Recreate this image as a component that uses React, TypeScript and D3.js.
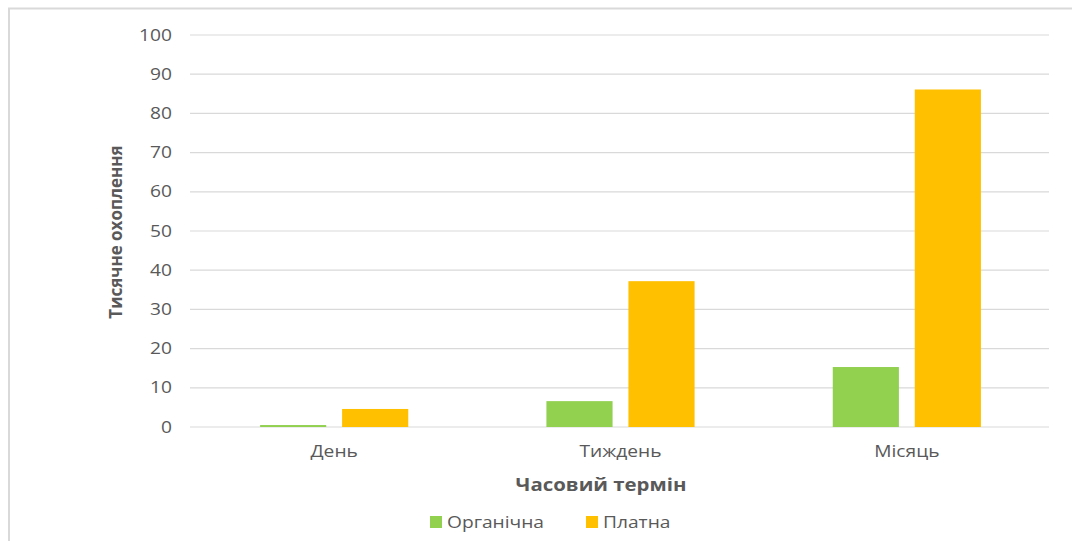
import React from "react";
import * as d3 from "d3";

const categories = ["День", "Тиждень", "Місяць"];
const seriesNames = ["Органічна", "Платна"];
const organic = [0.5, 6.6, 15.3];
const paid = [4.6, 37.2, 86.1];
const yTicks = [0, 10, 20, 30, 40, 50, 60, 70, 80, 90, 100];
const colors = ["#92d050", "#ffc000"];

const W = 1072;
const H = 541;
const plot = { left: 190, right: 1049, top: 35, bottom: 427 };
const font = "'Open Sans', 'Liberation Sans', sans-serif";
const textColor = "#595959";
const stretch = 1.2;

type LabelProps = {
  x: number;
  y: number;
  anchor?: "start" | "middle" | "end";
  size?: number;
  weight?: string;
  children: React.ReactNode;
};

// horizontally widened label, anchored at (x, y) on its vertical middle
function Label({ x, y, anchor = "start", size = 16, weight = "normal", children }: LabelProps) {
  return (
    <g transform={`translate(${x},${y}) scale(${stretch},1)`}>
      <text dy="0.35em" textAnchor={anchor} fontSize={size} fontWeight={weight} fill={textColor}>
        {children}
      </text>
    </g>
  );
}

export default function App() {
  const y = d3.scaleLinear().domain([0, 100]).range([plot.bottom, plot.top]);
  const x0 = d3
    .scaleBand<string>()
    .domain(categories)
    .range([plot.left, plot.right])
    .paddingInner(0)
    .paddingOuter(0);
  const barW = x0.bandwidth() * 0.231;
  const gap = barW * 0.24;
  const series = [organic, paid];

  return (
    <svg
      width={W}
      height={H}
      style={{ position: "absolute", left: 0, top: 0, background: "#fff" }}
      fontFamily={font}
    >
      {/* chart frame */}
      <path d={`M9,${H} V8.5 H${W}`} fill="none" stroke="#d9d9d9" strokeWidth={2} />

      {/* gridlines */}
      {yTicks.map((t) => (
        <line
          key={t}
          x1={plot.left}
          x2={plot.right}
          y1={y(t)}
          y2={y(t)}
          stroke="#d9d9d9"
          strokeWidth={1.2}
        />
      ))}

      {/* y tick labels */}
      {yTicks.map((t) => (
        <Label key={t} x={172} y={y(t)} anchor="end">
          {t}
        </Label>
      ))}

      {/* bars */}
      {categories.map((c, i) => {
        const center = (x0(c) as number) + x0.bandwidth() / 2 + 1;
        return series.map((s, j) => {
          const bx = j === 0 ? center - gap / 2 - barW : center + gap / 2;
          return (
            <rect
              key={`${c}-${j}`}
              x={bx}
              y={y(s[i])}
              width={barW}
              height={y(0) - y(s[i])}
              fill={colors[j]}
            />
          );
        });
      })}

      {/* category labels */}
      {categories.map((c) => (
        <Label key={c} x={(x0(c) as number) + x0.bandwidth() / 2 + 1} y={451} anchor="middle">
          {c}
        </Label>
      ))}

      {/* axis titles */}
      <Label x={601} y={485} anchor="middle" size={17} weight="bold">
        Часовий термін
      </Label>
      <text
        transform={`translate(116,232) rotate(-90)`}
        dy="0.35em"
        textAnchor="middle"
        fontSize={17}
        fontWeight="bold"
        fill={textColor}
      >
        Тисячне охоплення
      </text>

      {/* legend */}
      {seriesNames.map((n, j) => {
        const lx = j === 0 ? 430 : 586;
        return (
          <g key={n}>
            <rect x={lx} y={516} width={12} height={12} fill={colors[j]} />
            <Label x={lx + 17} y={522}>
              {n}
            </Label>
          </g>
        );
      })}
    </svg>
  );
}
